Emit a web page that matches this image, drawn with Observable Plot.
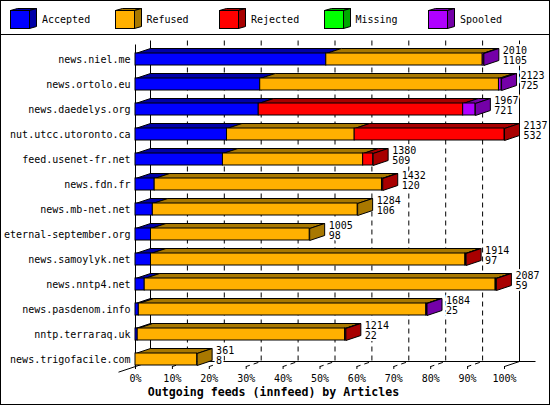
<!DOCTYPE html>
<html><head><meta charset="utf-8">
<script src="https://cdn.jsdelivr.net/npm/d3@7"></script>
<script src="https://cdn.jsdelivr.net/npm/@observablehq/plot@0.6"></script>
<style>
html,body{margin:0;padding:0;background:#fff;}
#wrap{position:relative;width:550px;height:405px;border:1px solid #000;box-sizing:border-box;background:#fff;font-family:"DejaVu Sans Mono",monospace;color:#000;overflow:hidden;}
#legend{position:relative;height:33px;border-bottom:1px solid #000;}
.item{position:absolute;top:0;height:33px;width:104px;}
.item svg{position:absolute;left:0;top:0;}
.item span{position:absolute;left:32px;top:13px;line-height:12px;font-size:10px;white-space:nowrap;}
#chart svg{display:block;}
#caption{height:21px;line-height:18px;text-align:center;font-weight:bold;font-size:11.6px;padding-right:3px;}
</style></head><body>
<div id="wrap"><div id="legend"></div><div id="chart"></div><div id="caption"></div></div>
<script>
// ---- data ----
const hosts = ["news.niel.me","news.ortolo.eu","news.daedelys.org","nut.utcc.utoronto.ca","feed.usenet-fr.net","news.fdn.fr","news.mb-net.net","eternal-september.org","news.samoylyk.net","news.nntp4.net","news.pasdenom.info","nntp.terraraq.uk","news.trigofacile.com"];
const statuses = ["Accepted","Refused","Rejected","Missing","Spooled"];
const accepted = [51.7, 33.8, 33.4, 24.8, 23.7, 5.2, 4.7, 4.2, 4.2, 2.5, 0.9, 0.6, 0];
const refused  = [42.4, 64.7, 0, 34.6, 38.0, 61.6, 55.5, 43.0, 85.2, 95.1, 77.9, 56.2, 16.7];
const rejected = [0, 0, 55.4, 40.6, 2.7, 0.2, 0, 0, 0.2, 0.2, 0, 0.2, 0];
const missing  = [0, 0, 0, 0, 0, 0, 0, 0, 0, 0, 0, 0, 0];
const spooled  = [0.3, 0.7, 3.3, 0, 0, 0, 0, 0, 0, 0, 0.2, 0, 0];
const offered  = [2010, 2123, 1967, 2137, 1380, 1432, 1284, 1005, 1914, 2087, 1684, 1214, 361];
const second   = [1105, 725, 721, 532, 509, 120, 106, 98, 97, 59, 25, 22, 8];
const xTicks = [0,10,20,30,40,50,60,70,80,90,100];
const title = "Outgoing feeds (innfeed) by Articles";

// ---- styles ----
const fronts = ["#0000ff","#ffb000","#ff0000","#00ff00","#b000ff"];
const darks  = ["#0000a8","#a87800","#a80000","#00a800","#7400a8"];
const DX = 15, DY = -5, INSET = 6.5, BAR_H = 12;

const seriesVals = [accepted, refused, rejected, missing, spooled];

// segments table
const segs = [];
const rows = [];
hosts.forEach((h, i) => {
  let cum = 0;
  seriesVals.forEach((vals, k) => {
    const v = vals[i];
    if (v > 0) { segs.push({host: h, status: statuses[k], k, x1: cum, x2: cum + v}); cum += v; }
  });
  rows.push({host: h, total: cum, offered: offered[i], second: second[i]});
});

// ---- legend ----
const legend = d3.select("#legend");
statuses.forEach((s, k) => {
  const it = legend.append("div").attr("class","item").style("left", (9 + 104.5*k) + "px");
  const svg = it.append("svg").attr("width", 30).attr("height", 33);
  const g = svg.append("g").attr("stroke","#000");
  g.append("path").attr("fill", darks[k]).attr("d","M0.5,9.5L7.5,7.5H26.5L19.5,9.5Z");
  g.append("path").attr("fill", darks[k]).attr("d","M19.5,9.5L26.5,7.5V25.5L19.5,27.5Z");
  g.append("rect").attr("fill", fronts[k]).attr("x",0.5).attr("y",9.5).attr("width",19).attr("height",18);
  it.append("span").text(s);
});
d3.select("#caption").text(title);

// ---- 3D frame (back walls, floor, dashed grid) ----
function frame3d(index, scales, values, dims) {
  const x = scales.x;
  const fl = x(0), fr = x(100);
  const fb = dims.height - dims.marginBottom;
  const ft = dims.marginTop;
  const bb = fb + DY, bt = ft + DY + 1;
  const g = d3.create("svg:g").attr("transform","translate(0.5,0.5)").attr("fill","none").attr("stroke","#000");
  for (const t of xTicks) {
    if (t === 0 || t === 100) continue;
    g.append("path").attr("stroke-dasharray","5,4").attr("d", `M${x(t)+DX},${bt}V${bb}L${x(t)},${fb}`);
  }
  g.append("path").attr("d", `M${fl+DX},${bt}V${bb}H${fr+2*DX+1}`);
  g.append("path").attr("d", `M${fr+DX},${bt}V${bb}L${fr},${fb}`);
  g.append("path").attr("d", `M${fl},${ft}V${fb}`);
  g.append("path").attr("d", `M${fl+DX},${bb}L${fl-17},${fb+17*(-DY/DX)}`);
  return g.node();
}

// ---- top and side faces of the 3D bars ----
function faces(index, scales) {
  const x = scales.x, y = scales.y;
  const g = d3.create("svg:g").attr("transform","translate(0.5,0.5)").attr("stroke","#000");
  hosts.forEach((h) => {
    const yt = y(h) + INSET, yb = yt + BAR_H;
    let last = null;
    for (const s of segs) {
      if (s.host !== h) continue;
      const x0 = x(s.x1), x1 = x(s.x2);
      g.append("path").attr("fill", darks[s.k]).attr("d", `M${x0},${yt}H${x1}l${DX},${DY}H${x0+DX}Z`);
      last = {k: s.k, x1};
    }
    if (last) g.append("path").attr("fill", darks[last.k])
      .attr("d", `M${last.x1},${yt}l${DX},${DY}V${yb+DY}l${-DX},${-DY}Z`);
  });
  return g.node();
}

const chart = Plot.plot({
  width: 548,
  height: 348,
  marginLeft: 134,
  marginRight: 45,
  marginTop: 9,
  marginBottom: 17,
  style: {fontFamily: "'DejaVu Sans Mono', monospace", fontSize: "10px", color: "#000", background: "#fff"},
  x: {domain: [0, 100]},
  y: {domain: hosts, range: [11.5, 336.5], padding: 0, round: false},
  color: {domain: statuses, range: fronts},
  marks: [
    frame3d,
    faces,
    Plot.barX(segs, {x1: "x1", x2: "x2", y: "host", fill: "status", stroke: "#000", strokeWidth: 1, insetTop: INSET, insetBottom: INSET}),
    Plot.text(rows, {x: "total", y: "host", text: d => String(d.offered), dx: 19, dy: -9, textAnchor: "start", lineAnchor: "middle", fill: "#000", stroke: "#fff", strokeWidth: 4}),
    Plot.text(rows, {x: "total", y: "host", text: d => String(d.second), dx: 19, dy: 1.5, textAnchor: "start", lineAnchor: "middle", fill: "#000", stroke: "#fff", strokeWidth: 4}),
    Plot.axisY({tickSize: 0, tickPadding: 5, label: null}),
    Plot.axisX({ticks: xTicks, tickFormat: d => d + "%", tickSize: 3, tickPadding: 5, label: null})
  ]
});
document.getElementById("chart").appendChild(chart);
</script>
</body></html>
